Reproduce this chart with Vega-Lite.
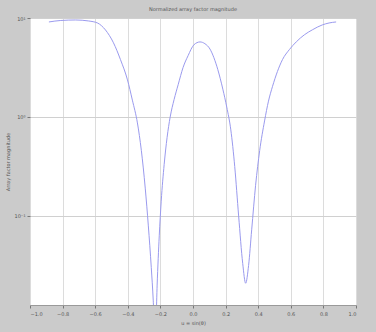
{
  "$schema": "https://vega.github.io/schema/vega-lite/v6.json",
  "autosize": "none",
  "width": 326,
  "height": 287,
  "padding": {"left": 30, "top": 18, "right": 20, "bottom": 27},
  "background": "#cbcbcb",
  "title": {"text": "Normalized array factor magnitude", "fontSize": 5, "font": "DejaVu Sans", "fontWeight": "normal", "color": "#555555", "offset": 4},
  "config": {"view": {"fill": "white", "stroke": "#9a9a9a", "strokeWidth": 1}},
  "data": {"values": [
    {"u": -0.884, "mag": 9.12}, {"u": -0.811, "mag": 9.44}, {"u": -0.72, "mag": 9.55}, {"u": -0.64, "mag": 9.33},
    {"u": -0.585, "mag": 8.89}, {"u": -0.537, "mag": 7.57}, {"u": -0.488, "mag": 5.62}, {"u": -0.445, "mag": 3.8},
    {"u": -0.402, "mag": 2.37}, {"u": -0.372, "mag": 1.48}, {"u": -0.341, "mag": 0.871}, {"u": -0.317, "mag": 0.46},
    {"u": -0.293, "mag": 0.191}, {"u": -0.274, "mag": 0.0794}, {"u": -0.256, "mag": 0.0302}, {"u": -0.244, "mag": 0.0141},
    {"u": -0.232, "mag": 0.005}, {"u": -0.22, "mag": 0.02}, {"u": -0.207, "mag": 0.063}, {"u": -0.195, "mag": 0.141},
    {"u": -0.177, "mag": 0.33}, {"u": -0.159, "mag": 0.62}, {"u": -0.14, "mag": 1.0}, {"u": -0.116, "mag": 1.5},
    {"u": -0.091, "mag": 2.12}, {"u": -0.061, "mag": 3.16}, {"u": -0.03, "mag": 4.17}, {"u": 0.006, "mag": 5.37},
    {"u": 0.043, "mag": 5.73}, {"u": 0.073, "mag": 5.5}, {"u": 0.104, "mag": 4.86}, {"u": 0.128, "mag": 3.98},
    {"u": 0.152, "mag": 3.02}, {"u": 0.183, "mag": 1.91}, {"u": 0.207, "mag": 1.26}, {"u": 0.232, "mag": 0.741},
    {"u": 0.256, "mag": 0.316}, {"u": 0.28, "mag": 0.1}, {"u": 0.305, "mag": 0.0331}, {"u": 0.323, "mag": 0.0209},
    {"u": 0.341, "mag": 0.0316}, {"u": 0.36, "mag": 0.0724}, {"u": 0.384, "mag": 0.204}, {"u": 0.409, "mag": 0.457},
    {"u": 0.439, "mag": 0.912}, {"u": 0.463, "mag": 1.445}, {"u": 0.488, "mag": 2.04}, {"u": 0.518, "mag": 2.88},
    {"u": 0.549, "mag": 3.8}, {"u": 0.591, "mag": 4.79}, {"u": 0.634, "mag": 5.75}, {"u": 0.683, "mag": 6.76},
    {"u": 0.732, "mag": 7.59}, {"u": 0.793, "mag": 8.51}, {"u": 0.835, "mag": 8.91}, {"u": 0.878, "mag": 9.12}
  ]},
  "mark": {"type": "line", "color": "#9a9aee", "strokeWidth": 1, "clip": true, "interpolate": "monotone"},
  "encoding": {
    "x": {"field": "u", "type": "quantitative",
      "scale": {"domain": [-1, 1], "nice": false, "zero": false},
      "axis": {"values": [-1, -0.8, -0.6, -0.4, -0.2, 0, 0.2, 0.4, 0.6, 0.8, 1], "title": "u = sin(θ)",
        "grid": true, "gridColor": "#dcdcdc", "gridWidth": 1, "domain": false, "tickColor": "#777777", "tickSize": 3,
        "labelFontSize": 5, "labelColor": "#555555", "labelFont": "DejaVu Sans", "labelPadding": 3,
        "titleFontSize": 5, "titleFont": "DejaVu Sans", "titleFontWeight": "normal", "titleColor": "#555555", "titlePadding": 4}},
    "y": {"field": "mag", "type": "quantitative",
      "scale": {"type": "log", "domain": [0.0126, 10], "nice": false},
      "axis": {"values": [0.1, 1, 10], "title": "Array factor magnitude",
        "labelExpr": "datum.value == 1 ? '10⁰' : (datum.value < 0.5 ? '10⁻¹' : '10¹')",
        "grid": true, "gridColor": "#d0d0d0", "gridWidth": 1, "domain": false, "tickColor": "#777777", "tickSize": 3,
        "labelFontSize": 5, "labelColor": "#555555", "labelFont": "DejaVu Sans", "labelPadding": 2,
        "titleFontSize": 5, "titleFont": "DejaVu Sans", "titleFontWeight": "normal", "titleColor": "#555555", "titlePadding": 3}}
  }
}
